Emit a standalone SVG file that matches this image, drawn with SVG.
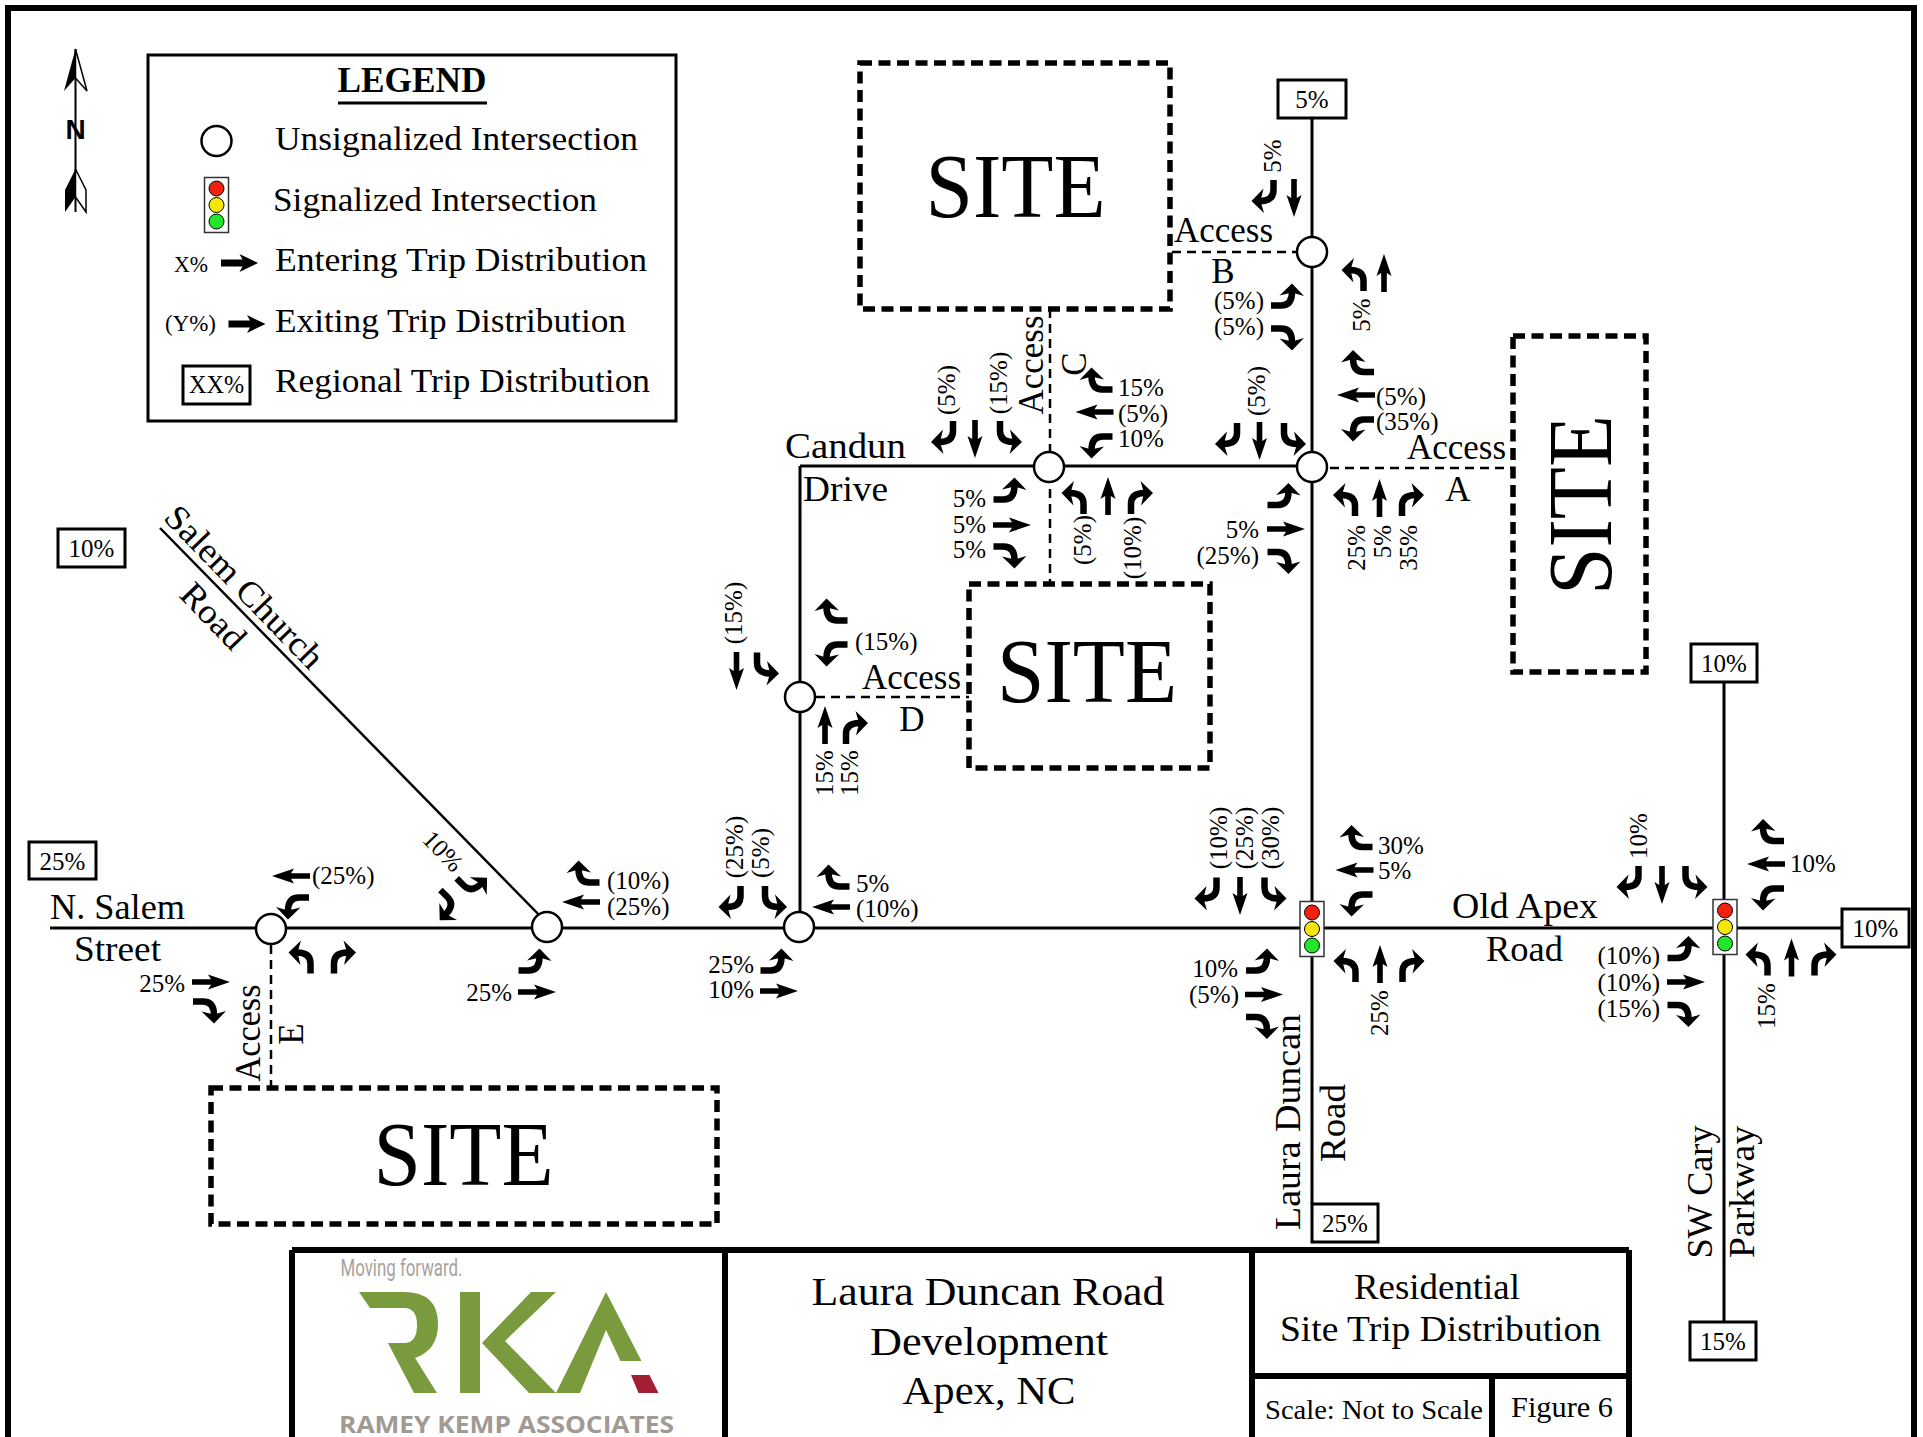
<svg xmlns="http://www.w3.org/2000/svg" xmlns:xlink="http://www.w3.org/1999/xlink" width="1923" height="1437" viewBox="0 0 1923 1437">
<style>
text{font-family:"Liberation Serif",serif;fill:#000}
.p{font-size:25px}
.e{text-anchor:end}
.m{text-anchor:middle}
.r{font-size:35px}
.l{font-size:34px}
.site{font-size:91px;text-anchor:middle}
.ti{font-size:40px;text-anchor:middle}
.box{fill:#fff;stroke:#000;stroke-width:3}
.rd{fill:none;stroke:#000;stroke-width:3}
.acc{fill:none;stroke:#000;stroke-width:2.5;stroke-dasharray:9 6}
.sitebox{fill:none;stroke:#000;stroke-width:5.5;stroke-dasharray:12 6.5}
.int{fill:#fff;stroke:#000;stroke-width:2.5}
.frame{fill:none;stroke:#000;stroke-width:6}
.g{fill:#7a9a3e}
</style>
<defs>
<g id="T"><path d="M-9.5,16 L-9.5,6 Q-9.5,-5 4,-5" fill="none" stroke="#000" stroke-width="6.5"/><path d="M12.5,-5 L0,-17 L3.5,-5 L0.5,7.5 Z" fill="#000"/></g>
<path id="S" d="M0,-19 L7.5,3 L2.8,0 L2.8,19 L-2.8,19 L-2.8,0 L-7.5,3 Z" fill="#000"/>
<path id="B" d="M-18.5,-3.5 L3,-3.5 L0,-9 L18.5,0 L0,9 L3,3.5 L-18.5,3.5 Z" fill="#000"/>
<g id="sig"><rect x="-12" y="-27.5" width="24" height="55" fill="#fff" stroke="#333" stroke-width="1.5"/><circle cy="-16.5" r="7.5" fill="#f2200c" stroke="#000"/><circle cy="0" r="7.5" fill="#f5e60a" stroke="#000"/><circle cy="16.5" r="7.5" fill="#22e62a" stroke="#000"/></g>
</defs>
<rect width="1923" height="1437" fill="#fff"/>
<rect class="frame" x="8" y="8" width="1906" height="1450"/>

<g id="connectors">
<path class="rd" d="M50,928 H1842"/>
<path class="rd" d="M1312,118 V1204"/>
<path class="rd" d="M1724,682 V1322"/>
<path class="rd" d="M800,466 H1312"/>
<path class="rd" d="M800,466 V927"/>
<path class="rd" style="stroke-width:2.5" d="M160,528 L547,923"/>
<path class="acc" d="M1172,252 H1297"/>
<path class="acc" d="M1330,468 H1512"/>
<path class="acc" d="M1050,309 V584"/>
<path class="acc" d="M816,697 H969"/>
<path class="acc" d="M271,945 V1087"/>
</g>

<g id="legend">
<rect x="148" y="55" width="528" height="366" fill="#fff" stroke="#000" stroke-width="3"/>
<text x="412" y="92" font-size="35" font-weight="bold" text-anchor="middle" textLength="149" lengthAdjust="spacingAndGlyphs">LEGEND</text>
<rect x="338" y="101.5" width="149" height="3" fill="#000"/>
<circle class="int" cx="216.5" cy="141" r="15"/>
<text class="l" x="275" y="150" textLength="363" lengthAdjust="spacingAndGlyphs">Unsignalized Intersection</text>
<use xlink:href="#sig" href="#sig" transform="translate(216.5,205)"/>
<text class="l" x="273" y="211" textLength="324" lengthAdjust="spacingAndGlyphs">Signalized Intersection</text>
<text x="174" y="272" font-size="24" textLength="34" lengthAdjust="spacingAndGlyphs">X%</text>
<use xlink:href="#B" href="#B" transform="translate(239.5,263)"/>
<text class="l" x="275" y="271" textLength="372" lengthAdjust="spacingAndGlyphs">Entering Trip Distribution</text>
<text x="165" y="331" font-size="24" textLength="51" lengthAdjust="spacingAndGlyphs">(Y%)</text>
<use xlink:href="#B" href="#B" transform="translate(247,324)"/>
<text class="l" x="275" y="332" textLength="351" lengthAdjust="spacingAndGlyphs">Exiting Trip Distribution</text>
<rect class="box" x="183" y="366" width="67" height="38"/>
<text x="216.5" y="393" font-size="25" text-anchor="middle" textLength="55" lengthAdjust="spacingAndGlyphs">XX%</text>
<text class="l" x="275" y="392" textLength="375" lengthAdjust="spacingAndGlyphs">Regional Trip Distribution</text>
</g>

<g id="north">
<path d="M75.5,49 V212" stroke="#000" stroke-width="2"/>
<path d="M75.5,49 L64,91 L75.5,78 Z" fill="#000"/>
<path d="M75.5,49 L87,91 L75.5,78 Z" fill="#fff" stroke="#000" stroke-width="1.5"/>
<path d="M75.5,169 L65,190 L65,212 L75.5,197 Z" fill="#000"/>
<path d="M75.5,169 L86,190 L86,212 L75.5,197 Z" fill="#fff" stroke="#000" stroke-width="1.5"/>
<text x="75.5" y="139" font-size="28" font-weight="bold" text-anchor="middle" style="font-family:'Liberation Sans',sans-serif">N</text>
</g>

<g id="site-top"><rect class="sitebox" x="860" y="63" width="310" height="246"/><text class="site" x="1015.5" y="217" textLength="180" lengthAdjust="spacingAndGlyphs">SITE</text></g>
<g id="site-right"><rect class="sitebox" x="1513" y="336" width="133" height="336"/><text class="site" x="1611" y="505" transform="rotate(-90 1611 505)" textLength="180" lengthAdjust="spacingAndGlyphs">SITE</text></g>
<g id="site-middle"><rect class="sitebox" x="969" y="584" width="241" height="184"/><text class="site" x="1087" y="702" textLength="180" lengthAdjust="spacingAndGlyphs">SITE</text></g>
<g id="site-bottom"><rect class="sitebox" x="211" y="1088" width="506" height="136"/><text class="site" x="463.5" y="1185" textLength="180" lengthAdjust="spacingAndGlyphs">SITE</text></g>

<g id="road-labels">
<text class="r m" x="845.5" y="458" textLength="121" lengthAdjust="spacingAndGlyphs">Candun</text>
<text class="r m" x="845.5" y="501" textLength="85" lengthAdjust="spacingAndGlyphs">Drive</text>
<text class="r" x="50" y="919" textLength="135" lengthAdjust="spacingAndGlyphs">N. Salem</text>
<text class="r" x="74" y="961" textLength="87" lengthAdjust="spacingAndGlyphs">Street</text>
<text class="r" x="1452" y="918" textLength="146" lengthAdjust="spacingAndGlyphs">Old Apex</text>
<text class="r" x="1486" y="961" textLength="77" lengthAdjust="spacingAndGlyphs">Road</text>
<text class="r m" x="1300" y="1122" transform="rotate(-90 1300 1122)" textLength="216" lengthAdjust="spacingAndGlyphs">Laura Duncan</text>
<text class="r m" x="1345" y="1123" transform="rotate(-90 1345 1123)" textLength="78" lengthAdjust="spacingAndGlyphs">Road</text>
<text class="r m" x="1712" y="1192" transform="rotate(-90 1712 1192)" textLength="133" lengthAdjust="spacingAndGlyphs">SW Cary</text>
<text class="r m" x="1754" y="1192" transform="rotate(-90 1754 1192)" textLength="132" lengthAdjust="spacingAndGlyphs">Parkway</text>
<text class="r m" x="236" y="595" transform="rotate(46 236 595)" textLength="212" lengthAdjust="spacingAndGlyphs">Salem Church</text>
<text class="r m" x="205" y="624" transform="rotate(46 205 624)" textLength="78" lengthAdjust="spacingAndGlyphs">Road</text>
<text class="r" x="1174" y="242" textLength="99" lengthAdjust="spacingAndGlyphs">Access</text>
<text class="r m" x="1223" y="283">B</text>
<text class="r" x="1407" y="459" textLength="99" lengthAdjust="spacingAndGlyphs">Access</text>
<text class="r m" x="1458" y="501">A</text>
<text class="r m" x="1043" y="365" transform="rotate(-90 1043 365)" textLength="99" lengthAdjust="spacingAndGlyphs">Access</text>
<text class="r m" x="1086" y="364" transform="rotate(-90 1086 364)">C</text>
<text class="r" x="862" y="689" textLength="99" lengthAdjust="spacingAndGlyphs">Access</text>
<text class="r m" x="912" y="731">D</text>
<text class="r m" x="260" y="1033" transform="rotate(-90 260 1033)" textLength="97" lengthAdjust="spacingAndGlyphs">Access</text>
<text class="r m" x="303" y="1034" transform="rotate(-90 303 1034)">E</text>
</g>

<g id="regional-boxes">
<g id="reg-5"><rect class="box" x="1278" y="80" width="68" height="38"/><text class="p m" x="1312" y="108">5%</text></g>
<g id="reg-10a"><rect class="box" x="58" y="529" width="67" height="38"/><text class="p m" x="91.5" y="557">10%</text></g>
<g id="reg-25a"><rect class="box" x="29" y="842" width="67" height="37"/><text class="p m" x="62.5" y="870">25%</text></g>
<g id="reg-10b"><rect class="box" x="1691" y="644" width="66" height="38"/><text class="p m" x="1724" y="672">10%</text></g>
<g id="reg-10c"><rect class="box" x="1842" y="909" width="67" height="38"/><text class="p m" x="1875.5" y="937">10%</text></g>
<g id="reg-25b"><rect class="box" x="1312" y="1204" width="66" height="38"/><text class="p m" x="1345" y="1232">25%</text></g>
<g id="reg-15"><rect class="box" x="1690" y="1322" width="66" height="38"/><text class="p m" x="1723" y="1350">15%</text></g>
</g>

<g id="int-b">
<circle class="int" cx="1312" cy="252" r="15"/>
<use href="#T" transform="translate(1264,196) rotate(180)"/>
<use href="#S" transform="translate(1294,198) rotate(180)"/>
<text class="p m" x="1281" y="156" transform="rotate(-90 1281 156)">5%</text>
<use href="#T" transform="translate(1354,275) scale(-1,1)"/>
<use href="#S" transform="translate(1384,273)"/>
<text class="p m" x="1370" y="315" transform="rotate(-90 1370 315)">5%</text>
<use href="#T" transform="translate(1287,296) rotate(90) scale(-1,1)"/>
<use href="#T" transform="translate(1287,338) rotate(90)"/>
<text class="p e" x="1264" y="309">(5%)</text>
<text class="p e" x="1264" y="335">(5%)</text>
</g>

<g id="int-c">
<circle class="int" cx="1049" cy="467" r="15"/>
<use href="#T" transform="translate(943.5,437) rotate(180)"/>
<use href="#S" transform="translate(975,439) rotate(180)"/>
<use href="#T" transform="translate(1009.5,437) rotate(180) scale(-1,1)"/>
<text class="p m" x="955" y="390" transform="rotate(-90 955 390)">(5%)</text>
<text class="p m" x="1007" y="383" transform="rotate(-90 1007 383)">(15%)</text>
<use href="#T" transform="translate(1096.5,380) rotate(270)"/>
<use href="#S" transform="translate(1094.5,412) rotate(270)"/>
<use href="#T" transform="translate(1096.5,446) rotate(270) scale(-1,1)"/>
<text class="p" x="1118" y="396">15%</text>
<text class="p" x="1118" y="422">(5%)</text>
<text class="p" x="1118" y="447">10%</text>
<use href="#T" transform="translate(1009.5,490) rotate(90) scale(-1,1)"/>
<use href="#S" transform="translate(1012,525) rotate(90)"/>
<use href="#T" transform="translate(1009.5,556) rotate(90)"/>
<text class="p e" x="986" y="507">5%</text>
<text class="p e" x="986" y="533">5%</text>
<text class="p e" x="986" y="558">5%</text>
<use href="#T" transform="translate(1074,498) scale(-1,1)"/>
<use href="#S" transform="translate(1108,496)"/>
<use href="#T" transform="translate(1140.5,498)"/>
<text class="p m" x="1091" y="540" transform="rotate(-90 1091 540)">(5%)</text>
<text class="p m" x="1141" y="548" transform="rotate(-90 1141 548)">(10%)</text>
</g>

<g id="int-a">
<circle class="int" cx="1312" cy="467" r="15"/>
<use href="#T" transform="translate(1227.5,439) rotate(180)"/>
<use href="#S" transform="translate(1259.5,441) rotate(180)"/>
<use href="#T" transform="translate(1293.5,439) rotate(180) scale(-1,1)"/>
<text class="p m" x="1265" y="391" transform="rotate(-90 1265 391)">(5%)</text>
<use href="#T" transform="translate(1358,362.5) rotate(270)"/>
<use href="#S" transform="translate(1356,395) rotate(270)"/>
<use href="#T" transform="translate(1358,429) rotate(270) scale(-1,1)"/>
<text class="p" x="1376" y="405">(5%)</text>
<text class="p" x="1376" y="430">(35%)</text>
<use href="#T" transform="translate(1345.5,500) scale(-1,1)"/>
<use href="#S" transform="translate(1379.5,498)"/>
<use href="#T" transform="translate(1411.5,500)"/>
<text class="p e" x="1365" y="525" transform="rotate(-90 1365 525)">25%</text>
<text class="p e" x="1391" y="525" transform="rotate(-90 1391 525)">5%</text>
<text class="p e" x="1417" y="525" transform="rotate(-90 1417 525)">35%</text>
<use href="#T" transform="translate(1283.5,495.5) rotate(90) scale(-1,1)"/>
<use href="#S" transform="translate(1286,529) rotate(90)"/>
<use href="#T" transform="translate(1283.5,561.5) rotate(90)"/>
<text class="p e" x="1259" y="538">5%</text>
<text class="p e" x="1259" y="564">(25%)</text>
</g>

<g id="int-d">
<circle class="int" cx="800" cy="697" r="15"/>
<use href="#T" transform="translate(831.5,611) rotate(270)"/>
<use href="#T" transform="translate(831.5,654) rotate(270) scale(-1,1)"/>
<text class="p" x="855" y="650">(15%)</text>
<use href="#S" transform="translate(736.5,671) rotate(180)"/>
<use href="#T" transform="translate(766.5,668.5) rotate(180) scale(-1,1)"/>
<text class="p m" x="742" y="613" transform="rotate(-90 742 613)">(15%)</text>
<use href="#S" transform="translate(825,725)"/>
<use href="#T" transform="translate(855.5,728)"/>
<text class="p m" x="833" y="773" transform="rotate(-90 833 773)">15%</text>
<text class="p m" x="858" y="773" transform="rotate(-90 858 773)">15%</text>
</g>

<g id="int-main">
<circle class="int" cx="799" cy="927" r="15"/>
<use href="#T" transform="translate(833.5,877) rotate(270)"/>
<use href="#S" transform="translate(831,907) rotate(270)"/>
<text class="p" x="856" y="892">5%</text>
<text class="p" x="856" y="917">(10%)</text>
<use href="#T" transform="translate(731,902) rotate(180)"/>
<use href="#T" transform="translate(774.5,902) rotate(180) scale(-1,1)"/>
<text class="p m" x="743" y="847" transform="rotate(-90 743 847)">(25%)</text>
<text class="p m" x="769" y="853" transform="rotate(-90 769 853)">(5%)</text>
<use href="#T" transform="translate(776.5,961) rotate(90) scale(-1,1)"/>
<use href="#S" transform="translate(779,991) rotate(90)"/>
<text class="p e" x="754" y="973">25%</text>
<text class="p e" x="754" y="998">10%</text>
</g>

<g id="int-salem">
<circle class="int" cx="547" cy="927" r="15"/>
<use href="#T" transform="translate(583.5,873) rotate(270)"/>
<use href="#S" transform="translate(581,902) rotate(270)"/>
<text class="p" x="607" y="889">(10%)</text>
<text class="p" x="607" y="915">(25%)</text>
<use href="#T" transform="translate(474.7,883) rotate(135) scale(-1,1)"/>
<use href="#T" transform="translate(445,908) rotate(135)"/>
<use href="#T" transform="translate(534.5,961) rotate(90) scale(-1,1)"/>
<use href="#S" transform="translate(537,992) rotate(90)"/>
<text class="p e" x="512" y="1001">25%</text>
<text class="p m" x="437" y="857" transform="rotate(46 437 857)">10%</text>
</g>

<g id="int-e">
<circle class="int" cx="271" cy="929" r="15"/>
<use href="#S" transform="translate(291,876) rotate(270)"/>
<use href="#T" transform="translate(293,907) rotate(270) scale(-1,1)"/>
<text class="p" x="312" y="884">(25%)</text>
<use href="#T" transform="translate(301,957.5) scale(-1,1)"/>
<use href="#T" transform="translate(343.5,957.5)"/>
<use href="#S" transform="translate(211,982) rotate(90)"/>
<use href="#T" transform="translate(209,1011) rotate(90)"/>
<text class="p e" x="185" y="992">25%</text>
</g>

<g id="int-laura">
<use href="#sig" transform="translate(1312,929)"/>
<use href="#T" transform="translate(1207,893.5) rotate(180)"/>
<use href="#S" transform="translate(1240,896) rotate(180)"/>
<use href="#T" transform="translate(1274,893.5) rotate(180) scale(-1,1)"/>
<text class="p m" x="1227" y="838" transform="rotate(-90 1227 838)">(10%)</text>
<text class="p m" x="1253" y="838" transform="rotate(-90 1253 838)">(25%)</text>
<text class="p m" x="1279" y="838" transform="rotate(-90 1279 838)">(30%)</text>
<use href="#T" transform="translate(1356.5,837.5) rotate(270)"/>
<use href="#S" transform="translate(1354.5,870) rotate(270)"/>
<use href="#T" transform="translate(1356.5,904) rotate(270) scale(-1,1)"/>
<text class="p" x="1378" y="854">30%</text>
<text class="p" x="1378" y="879">5%</text>
<use href="#T" transform="translate(1346,966) scale(-1,1)"/>
<use href="#S" transform="translate(1380,964)"/>
<use href="#T" transform="translate(1412,966)"/>
<text class="p m" x="1388" y="1013" transform="rotate(-90 1388 1013)">25%</text>
<use href="#T" transform="translate(1262,961) rotate(90) scale(-1,1)"/>
<use href="#S" transform="translate(1264,994.5) rotate(90)"/>
<use href="#T" transform="translate(1262,1026.5) rotate(90)"/>
<text class="p e" x="1238" y="977">10%</text>
<text class="p e" x="1239" y="1003">(5%)</text>
</g>

<g id="int-cary">
<use href="#sig" transform="translate(1725,927)"/>
<use href="#T" transform="translate(1629,882) rotate(180)"/>
<use href="#S" transform="translate(1662,885) rotate(180)"/>
<use href="#T" transform="translate(1695,882) rotate(180) scale(-1,1)"/>
<text class="p m" x="1647" y="836" transform="rotate(-90 1647 836)">10%</text>
<use href="#T" transform="translate(1768,831.5) rotate(270)"/>
<use href="#S" transform="translate(1766,864) rotate(270)"/>
<use href="#T" transform="translate(1768,898) rotate(270) scale(-1,1)"/>
<text class="p" x="1790" y="872">10%</text>
<use href="#T" transform="translate(1758,959.5) scale(-1,1)"/>
<use href="#S" transform="translate(1791.5,957.5)"/>
<use href="#T" transform="translate(1824,959.5)"/>
<text class="p m" x="1775" y="1006" transform="rotate(-90 1775 1006)">15%</text>
<use href="#T" transform="translate(1683.5,948.5) rotate(90) scale(-1,1)"/>
<use href="#S" transform="translate(1686,982) rotate(90)"/>
<use href="#T" transform="translate(1683.5,1014.5) rotate(90)"/>
<text class="p e" x="1660" y="964">(10%)</text>
<text class="p e" x="1660" y="991">(10%)</text>
<text class="p e" x="1660" y="1017">(15%)</text>
</g>

<g id="title-block">
<path d="M292,1250 H1629 M292,1250 V1440 M725,1250 V1440 M1252,1250 V1440 M1629,1250 V1440 M1252,1376 H1629 M1492,1376 V1440" fill="none" stroke="#000" stroke-width="6"/>
<text x="340.5" y="1276" font-size="23" style="font-family:'Roboto',sans-serif;fill:#a8a29a" textLength="122" lengthAdjust="spacingAndGlyphs">Moving forward.</text>
<path class="g" d="M359,1292 L404,1292 Q438,1292 438,1324 Q438,1350 415,1358 L437,1393 L414,1393 L388,1343 L404,1343 Q417,1343 417,1325 Q417,1308 404,1308 L370,1308 Z"/>
<rect class="g" x="460" y="1292" width="20" height="101"/>
<polygon class="g" points="531,1292 556,1292 505,1341 556,1393 529,1393 482,1343"/>
<polygon class="g" points="606,1292 641.5,1361 620.5,1361 606,1330 580,1393 556,1393"/>
<polygon fill="#a31f34" points="631,1375 649.5,1375 658.5,1393 638.5,1393"/>
<text x="339" y="1433" font-size="24" font-weight="bold" style="font-family:'Open Sans',sans-serif;fill:#a09a93" textLength="335" lengthAdjust="spacingAndGlyphs">RAMEY KEMP ASSOCIATES</text>
<text class="ti" x="988" y="1305" textLength="353" lengthAdjust="spacingAndGlyphs">Laura Duncan Road</text>
<text class="ti" x="989" y="1355" textLength="238" lengthAdjust="spacingAndGlyphs">Development</text>
<text class="ti" x="989" y="1404" textLength="173" lengthAdjust="spacingAndGlyphs">Apex, NC</text>
<text x="1437" y="1299" font-size="35" text-anchor="middle" textLength="166" lengthAdjust="spacingAndGlyphs">Residential</text>
<text x="1440.5" y="1341" font-size="35" text-anchor="middle" textLength="321" lengthAdjust="spacingAndGlyphs">Site Trip Distribution</text>
<text x="1265" y="1419" font-size="28" textLength="218" lengthAdjust="spacingAndGlyphs">Scale: Not to Scale</text>
<text x="1511" y="1417" font-size="30" textLength="102" lengthAdjust="spacingAndGlyphs">Figure 6</text>
</g>
</svg>
